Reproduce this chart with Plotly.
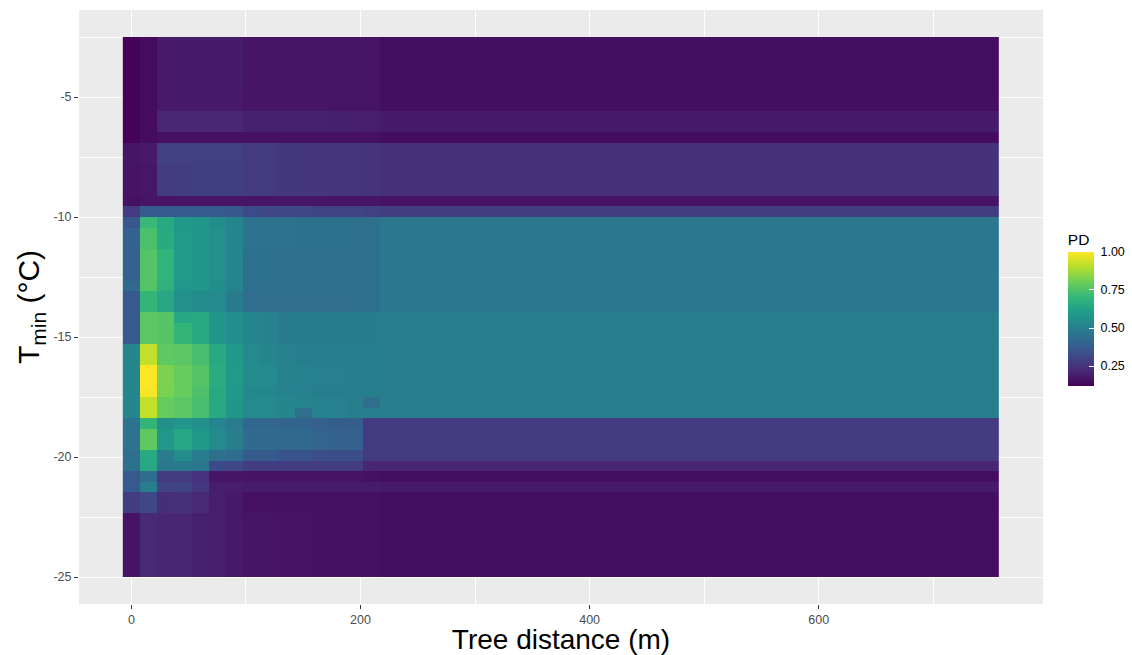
import plotly.graph_objects as go

# ---- data ----
# tree distance (m): column centres
distance_m = list(range(0, 751, 15))            # 51 columns, 0 .. 750 m
# minimum temperature (degC): row centres, bottom -> top (51 rows between -25 and -2.5)
n_rows = 51
row_step = 22.5 / n_rows
tmin_c = [round(-25 + row_step * (k + 0.5), 4) for k in range(n_rows)]

# PD values for the first 15 distance columns (0..210 m), rows listed TOP -> BOTTOM
pd_near = [
    [0.125, 0.145, 0.185, 0.185, 0.185, 0.185, 0.185, 0.170, 0.170, 0.170, 0.170, 0.170, 0.170, 0.170, 0.170],
    [0.125, 0.145, 0.185, 0.185, 0.185, 0.185, 0.185, 0.170, 0.170, 0.170, 0.170, 0.170, 0.170, 0.170, 0.170],
    [0.125, 0.145, 0.185, 0.185, 0.185, 0.185, 0.185, 0.170, 0.170, 0.170, 0.170, 0.170, 0.170, 0.170, 0.170],
    [0.125, 0.145, 0.185, 0.185, 0.185, 0.185, 0.185, 0.170, 0.170, 0.170, 0.170, 0.170, 0.170, 0.170, 0.170],
    [0.125, 0.145, 0.185, 0.185, 0.185, 0.185, 0.185, 0.170, 0.170, 0.170, 0.170, 0.170, 0.170, 0.170, 0.170],
    [0.125, 0.145, 0.180, 0.180, 0.180, 0.180, 0.180, 0.170, 0.170, 0.170, 0.170, 0.170, 0.170, 0.170, 0.170],
    [0.125, 0.145, 0.180, 0.180, 0.180, 0.180, 0.180, 0.170, 0.170, 0.170, 0.170, 0.170, 0.170, 0.170, 0.170],
    [0.125, 0.145, 0.215, 0.215, 0.215, 0.215, 0.215, 0.200, 0.200, 0.200, 0.200, 0.200, 0.195, 0.195, 0.190],
    [0.125, 0.145, 0.215, 0.215, 0.215, 0.215, 0.215, 0.200, 0.200, 0.200, 0.200, 0.200, 0.195, 0.195, 0.190],
    [0.125, 0.145, 0.160, 0.160, 0.160, 0.160, 0.160, 0.160, 0.160, 0.160, 0.160, 0.160, 0.160, 0.160, 0.160],
    [0.170, 0.180, 0.290, 0.290, 0.290, 0.290, 0.290, 0.270, 0.270, 0.265, 0.260, 0.260, 0.255, 0.255, 0.250],
    [0.170, 0.180, 0.290, 0.290, 0.290, 0.290, 0.290, 0.270, 0.270, 0.265, 0.260, 0.260, 0.255, 0.255, 0.250],
    [0.165, 0.175, 0.275, 0.280, 0.285, 0.285, 0.285, 0.270, 0.270, 0.265, 0.260, 0.260, 0.255, 0.255, 0.250],
    [0.165, 0.175, 0.275, 0.280, 0.285, 0.285, 0.285, 0.270, 0.270, 0.265, 0.260, 0.260, 0.255, 0.255, 0.250],
    [0.165, 0.175, 0.275, 0.280, 0.285, 0.285, 0.285, 0.270, 0.270, 0.265, 0.260, 0.260, 0.255, 0.255, 0.250],
    [0.160, 0.170, 0.170, 0.170, 0.170, 0.170, 0.170, 0.170, 0.170, 0.170, 0.170, 0.170, 0.170, 0.170, 0.170],
    [0.270, 0.370, 0.370, 0.370, 0.370, 0.370, 0.360, 0.320, 0.310, 0.310, 0.310, 0.300, 0.300, 0.300, 0.290],
    [0.360, 0.710, 0.650, 0.590, 0.580, 0.550, 0.520, 0.450, 0.450, 0.450, 0.445, 0.445, 0.445, 0.445, 0.440],
    [0.390, 0.745, 0.655, 0.595, 0.580, 0.560, 0.520, 0.450, 0.450, 0.450, 0.445, 0.445, 0.445, 0.445, 0.440],
    [0.390, 0.745, 0.655, 0.595, 0.580, 0.560, 0.520, 0.450, 0.450, 0.450, 0.445, 0.445, 0.445, 0.445, 0.440],
    [0.390, 0.760, 0.690, 0.600, 0.580, 0.560, 0.520, 0.445, 0.445, 0.440, 0.440, 0.440, 0.440, 0.440, 0.440],
    [0.390, 0.760, 0.690, 0.600, 0.580, 0.560, 0.520, 0.445, 0.445, 0.440, 0.440, 0.440, 0.440, 0.440, 0.440],
    [0.390, 0.760, 0.690, 0.600, 0.580, 0.560, 0.520, 0.445, 0.445, 0.440, 0.440, 0.440, 0.440, 0.440, 0.440],
    [0.420, 0.760, 0.680, 0.580, 0.580, 0.550, 0.520, 0.440, 0.440, 0.440, 0.440, 0.440, 0.440, 0.440, 0.440],
    [0.370, 0.700, 0.645, 0.560, 0.550, 0.540, 0.490, 0.435, 0.435, 0.435, 0.435, 0.435, 0.435, 0.435, 0.440],
    [0.370, 0.700, 0.645, 0.560, 0.550, 0.540, 0.490, 0.435, 0.435, 0.435, 0.435, 0.435, 0.435, 0.435, 0.440],
    [0.370, 0.770, 0.760, 0.645, 0.650, 0.580, 0.555, 0.520, 0.510, 0.490, 0.490, 0.490, 0.490, 0.490, 0.490],
    [0.370, 0.770, 0.760, 0.700, 0.650, 0.580, 0.555, 0.520, 0.510, 0.490, 0.490, 0.490, 0.490, 0.490, 0.490],
    [0.370, 0.770, 0.760, 0.700, 0.650, 0.580, 0.555, 0.520, 0.510, 0.490, 0.490, 0.490, 0.490, 0.490, 0.490],
    [0.530, 0.920, 0.780, 0.770, 0.740, 0.650, 0.590, 0.540, 0.530, 0.510, 0.500, 0.500, 0.500, 0.500, 0.500],
    [0.530, 0.920, 0.780, 0.770, 0.740, 0.650, 0.590, 0.540, 0.530, 0.510, 0.500, 0.500, 0.500, 0.500, 0.500],
    [0.530, 1.000, 0.825, 0.790, 0.760, 0.660, 0.600, 0.545, 0.540, 0.515, 0.510, 0.505, 0.505, 0.500, 0.500],
    [0.530, 1.000, 0.825, 0.790, 0.760, 0.660, 0.600, 0.545, 0.540, 0.515, 0.510, 0.505, 0.505, 0.500, 0.500],
    [0.530, 0.990, 0.820, 0.790, 0.750, 0.650, 0.590, 0.535, 0.530, 0.510, 0.510, 0.500, 0.500, 0.500, 0.500],
    [0.530, 0.920, 0.790, 0.770, 0.740, 0.650, 0.585, 0.540, 0.540, 0.530, 0.520, 0.510, 0.510, 0.500, 0.440],
    [0.530, 0.920, 0.790, 0.770, 0.740, 0.650, 0.585, 0.540, 0.540, 0.530, 0.440, 0.510, 0.510, 0.500, 0.500],
    [0.450, 0.700, 0.560, 0.580, 0.560, 0.520, 0.490, 0.410, 0.410, 0.400, 0.400, 0.390, 0.380, 0.380, 0.270],
    [0.450, 0.780, 0.590, 0.640, 0.590, 0.540, 0.500, 0.420, 0.420, 0.420, 0.420, 0.400, 0.390, 0.390, 0.270],
    [0.450, 0.780, 0.590, 0.640, 0.590, 0.540, 0.500, 0.420, 0.420, 0.420, 0.420, 0.400, 0.390, 0.390, 0.270],
    [0.440, 0.650, 0.490, 0.550, 0.490, 0.440, 0.430, 0.370, 0.370, 0.350, 0.350, 0.330, 0.330, 0.330, 0.270],
    [0.440, 0.645, 0.470, 0.480, 0.470, 0.320, 0.310, 0.280, 0.280, 0.280, 0.280, 0.280, 0.280, 0.280, 0.210],
    [0.370, 0.430, 0.270, 0.270, 0.245, 0.170, 0.170, 0.165, 0.165, 0.165, 0.165, 0.165, 0.165, 0.165, 0.160],
    [0.370, 0.500, 0.300, 0.300, 0.265, 0.190, 0.190, 0.185, 0.185, 0.185, 0.185, 0.185, 0.185, 0.185, 0.185],
    [0.280, 0.310, 0.235, 0.240, 0.220, 0.190, 0.180, 0.160, 0.160, 0.160, 0.160, 0.160, 0.160, 0.160, 0.160],
    [0.280, 0.310, 0.235, 0.240, 0.220, 0.190, 0.180, 0.160, 0.160, 0.160, 0.160, 0.160, 0.160, 0.160, 0.160],
    [0.165, 0.220, 0.210, 0.210, 0.200, 0.190, 0.180, 0.170, 0.170, 0.165, 0.165, 0.160, 0.160, 0.160, 0.160],
    [0.165, 0.220, 0.210, 0.210, 0.200, 0.190, 0.180, 0.170, 0.170, 0.165, 0.165, 0.160, 0.160, 0.160, 0.160],
    [0.165, 0.220, 0.210, 0.210, 0.200, 0.190, 0.180, 0.170, 0.170, 0.165, 0.165, 0.160, 0.160, 0.160, 0.160],
    [0.165, 0.220, 0.210, 0.210, 0.200, 0.190, 0.180, 0.170, 0.170, 0.165, 0.165, 0.160, 0.160, 0.160, 0.160],
    [0.165, 0.220, 0.210, 0.210, 0.200, 0.190, 0.180, 0.170, 0.170, 0.165, 0.165, 0.160, 0.160, 0.160, 0.160],
    [0.165, 0.220, 0.210, 0.210, 0.200, 0.190, 0.180, 0.170, 0.170, 0.165, 0.165, 0.160, 0.160, 0.160, 0.160],
]
# PD value read for the remaining (flat) distance columns 225..750 m, rows TOP -> BOTTOM
pd_far = [
    0.155, 0.155, 0.155, 0.155, 0.155, 0.155, 0.155,
    0.185, 0.185, 0.150,
    0.240, 0.240, 0.240, 0.240, 0.240,
    0.165, 0.280,
    0.470, 0.470, 0.470, 0.470, 0.470, 0.470, 0.470, 0.470, 0.470,
    0.495, 0.495, 0.495, 0.495, 0.495, 0.495, 0.495, 0.495, 0.495, 0.495,
    0.270, 0.270, 0.270, 0.270,
    0.210, 0.155, 0.180,
    0.155, 0.155, 0.155, 0.155, 0.155, 0.155, 0.155, 0.155,
]

colorbar_ticks = [0.25, 0.50, 0.75, 1.00]
x_ticks = [0, 200, 400, 600]
y_ticks = [-25, -20, -15, -10, -5]

# ---- build matrix (bottom -> top for plotly) ----
n_far = len(distance_m) - len(pd_near[0])
z_top_down = [near + [far] * n_far for near, far in zip(pd_near, pd_far)]
z = z_top_down[::-1]

FONT = "Liberation Sans, Arial, sans-serif"
NBSP = "\u00a0"

fig = go.Figure(go.Heatmap(
    x=distance_m, y=tmin_c, z=z,
    colorscale="Viridis", zmin=0.12, zmax=1.0,
    colorbar=dict(
        title=dict(text="PD", side="top", font=dict(size=15.5, color="black", family=FONT)),
        thickness=26, len=156, lenmode="pixels",
        x=1.0258, xanchor="left", xpad=0,
        y=0.4985, yanchor="middle", ypad=0,
        outlinewidth=0,
        tickvals=colorbar_ticks,
        ticktext=[NBSP + f"{v:.2f}" for v in colorbar_ticks],
        ticks="inside", ticklen=5, tickcolor="white", tickwidth=1,
        tickfont=dict(size=12.5, color="black", family=FONT),
    ),
    hoverinfo="skip",
))

fig.update_layout(
    width=1132, height=655,
    margin=dict(l=79, r=89, t=10, b=51, pad=0, autoexpand=False),
    paper_bgcolor="white", plot_bgcolor="#EBEBEB",
    font=dict(family=FONT),
    xaxis=dict(
        range=[-45.75, 795.75], tickmode="array", tickvals=x_ticks,
        ticktext=[str(v) for v in x_ticks],
        ticks="outside", ticklen=4, tickwidth=1, tickcolor="#333333",
        tickfont=dict(size=12.5, color="#4D4D4D"),
        showgrid=True, gridcolor="white", gridwidth=1.1,
        minor=dict(tickmode="array", tickvals=[100, 300, 500, 700], showgrid=True,
                   gridcolor="white", gridwidth=0.55, ticks=""),
        zeroline=False, showline=False, automargin=False,
        title=dict(text="Tree distance (m)", font=dict(size=28, color="black"), standoff=3),
    ),
    yaxis=dict(
        range=[-26.125, -1.375], tickmode="array", tickvals=y_ticks,
        ticktext=[str(v) for v in y_ticks],
        ticks="outside", ticklen=4, tickwidth=1, tickcolor="#333333",
        tickfont=dict(size=12.5, color="#4D4D4D"),
        showgrid=True, gridcolor="white", gridwidth=1.1,
        minor=dict(tickmode="array", tickvals=[-22.5, -17.5, -12.5, -7.5, -2.5], showgrid=True,
                   gridcolor="white", gridwidth=0.55, ticks=""),
        zeroline=False, showline=False, automargin=False,
        title=dict(text="T<sub>min</sub> (°C)", font=dict(size=30, color="black"), standoff=4),
    ),
)

fig.write_html("out.html", config={"displayModeBar": False},
               post_script="document.body.style.margin='0';document.body.style.overflow='hidden';")
